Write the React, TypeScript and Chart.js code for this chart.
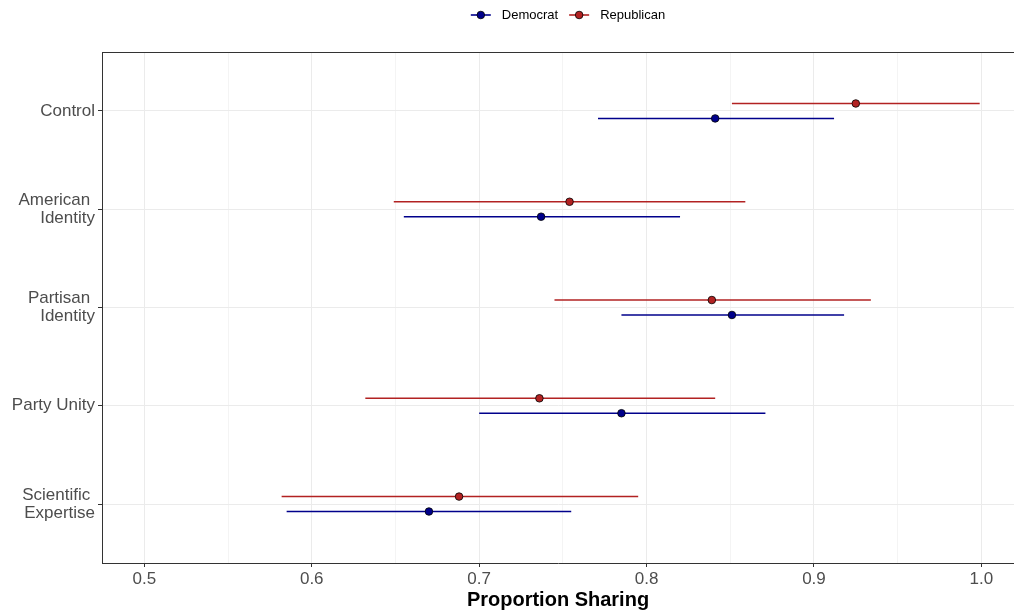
import React, { useEffect, useRef } from 'react';
import { Chart, registerables } from 'chart.js';

Chart.register(...registerables);

// ---- Data ----
const categories = ['Control', 'American Identity', 'Partisan Identity', 'Party Unity', 'Scientific Expertise'];
const yTickLabels = [['Control'], ['American ', 'Identity'], ['Partisan ', 'Identity'], ['Party Unity'], ['Scientific ', 'Expertise']];

const demEst = [0.841, 0.737, 0.851, 0.785, 0.670];
const demLo = [0.771, 0.655, 0.785, 0.700, 0.585];
const demHi = [0.912, 0.820, 0.918, 0.871, 0.755];

const repEst = [0.925, 0.754, 0.839, 0.736, 0.688];
const repLo = [0.851, 0.649, 0.745, 0.632, 0.582];
const repHi = [0.999, 0.859, 0.934, 0.841, 0.795];

const xMajorTicks = [0.5, 0.6, 0.7, 0.8, 0.9, 1.0];
const xMinorTicks = [0.55, 0.65, 0.75, 0.85, 0.95];
const seriesNames = ['Democrat', 'Republican'];
const xTitle = 'Proportion Sharing';

const DEM = '#00008B';
const REP = '#B22222';
const FONT = "'Liberation Sans', Arial, Helvetica, sans-serif";
const DODGE = 0.076;

const catY = (i: number) => categories.length - i;
const isMajor = (v: number) => xMajorTicks.some((m) => Math.abs(m - v) < 1e-9);

function buildDatasets() {
  const ds: any[] = [];
  const series = [
    { name: seriesNames[1], est: repEst, lo: repLo, hi: repHi, color: REP, off: DODGE },
    { name: seriesNames[0], est: demEst, lo: demLo, hi: demHi, color: DEM, off: -DODGE },
  ];
  series.forEach((s) => {
    ds.push({
      type: 'scatter',
      label: s.name,
      data: s.est.map((v, i) => ({ x: v, y: catY(i) + s.off })),
      backgroundColor: s.color,
      borderColor: '#000',
      borderWidth: 0.8,
      pointRadius: 3.8,
      pointHoverRadius: 3.8,
      order: 0,
    });
    s.lo.forEach((lo, i) => {
      ds.push({
        type: 'line',
        label: s.name + ' CI',
        data: [
          { x: lo, y: catY(i) + s.off },
          { x: s.hi[i], y: catY(i) + s.off },
        ],
        borderColor: s.color,
        borderWidth: 1.6,
        pointRadius: 0,
        pointHoverRadius: 0,
        fill: false,
        order: 1,
      });
    });
  });
  return ds;
}

const legendItems = [
  { label: seriesNames[0], color: DEM },
  { label: seriesNames[1], color: REP },
];

const panelBorderPlugin = {
  id: 'panelBorder',
  afterDraw(chart: any) {
    const { ctx, chartArea } = chart;
    ctx.save();
    ctx.strokeStyle = '#333333';
    ctx.lineWidth = 1;
    ctx.beginPath();
    ctx.moveTo(chartArea.left, Math.round(chartArea.top) + 0.5);
    ctx.lineTo(chartArea.right, Math.round(chartArea.top) + 0.5);
    ctx.stroke();
    ctx.restore();
  },
};

const customLegendPlugin = {
  id: 'customLegend',
  afterDraw(chart: any) {
    const ctx = chart.ctx;
    ctx.save();
    ctx.font = `13px ${FONT}`;
    const symW = 20;
    const gapText = 11;
    const gapItem = 11;
    const widths = legendItems.map((it) => symW + gapText + ctx.measureText(it.label).width);
    const total = widths.reduce((a, b) => a + b, 0) + gapItem * (legendItems.length - 1);
    const centerX = (chart.chartArea.left + chart.chartArea.right) / 2 + 10;
    let x = centerX - total / 2;
    const y = 15;
    legendItems.forEach((it, i) => {
      ctx.strokeStyle = it.color;
      ctx.lineWidth = 1.6;
      ctx.beginPath();
      ctx.moveTo(x, y);
      ctx.lineTo(x + symW, y);
      ctx.stroke();
      ctx.beginPath();
      ctx.arc(x + symW / 2, y, 3.8, 0, Math.PI * 2);
      ctx.fillStyle = it.color;
      ctx.fill();
      ctx.lineWidth = 0.8;
      ctx.strokeStyle = '#000';
      ctx.stroke();
      ctx.fillStyle = '#000';
      ctx.textBaseline = 'middle';
      ctx.textAlign = 'left';
      ctx.fillText(it.label, x + symW + gapText, y);
      x += widths[i] + gapItem;
    });
    ctx.restore();
  },
};

export default function App() {
  const canvasRef = useRef<HTMLCanvasElement | null>(null);

  useEffect(() => {
    if (!canvasRef.current) return;
    Chart.defaults.font.family = FONT;
    const chart = new Chart(canvasRef.current, {
      type: 'scatter',
      data: { datasets: buildDatasets() },
      options: {
        responsive: false,
        animation: false,
        devicePixelRatio: 1,
        layout: { autoPadding: false, padding: { top: 52, left: 0, right: 0, bottom: 0 } },
        plugins: {
          legend: { display: false },
          tooltip: { enabled: false },
        },
        scales: {
          x: {
            type: 'linear',
            min: 0.4747,
            max: 1.0195,
            afterBuildTicks: (s: any) => {
              s.ticks = [...xMajorTicks, ...xMinorTicks].sort((a, b) => a - b).map((v) => ({ value: v }));
            },
            afterFit: (s: any) => {
              s.height = 51;
              s.paddingLeft = 0;
              s.paddingRight = 0;
            },
            ticks: {
              autoSkip: false,
              maxRotation: 0,
              color: '#4d4d4d',
              font: { size: 17 },
              padding: 2,
              callback: (v: any) => (isMajor(Number(v)) ? Number(v).toFixed(1) : ''),
            },
            grid: {
              color: (c: any) => (c.tick && !isMajor(c.tick.value) ? '#f4f4f4' : '#ebebeb'),
              lineWidth: 1,
              tickLength: 4,
              tickWidth: 1,
              tickColor: (c: any) => (c.tick && isMajor(c.tick.value) ? '#333333' : 'rgba(0,0,0,0)'),
            },
            border: { display: true, color: '#333333', width: 1 },
            title: {
              display: true,
              text: xTitle,
              color: '#000',
              font: { size: 20, weight: 'bold' },
              padding: { top: 0, bottom: 2 },
            },
          },
          y: {
            type: 'linear',
            min: 0.4,
            max: 5.6,
            afterBuildTicks: (s: any) => {
              s.ticks = categories.map((_, i) => ({ value: catY(i) })).sort((a, b) => a.value - b.value);
            },
            afterFit: (s: any) => {
              s.width = 102;
              s.paddingTop = 0;
              s.paddingBottom = 0;
            },
            ticks: {
              autoSkip: false,
              color: '#4d4d4d',
              font: { size: 17, lineHeight: 1.05 },
              padding: 3,
              callback: (v: any) => yTickLabels[categories.length - Number(v)] as any,
            },
            grid: {
              color: '#ebebeb',
              lineWidth: 1,
              tickLength: 4,
              tickWidth: 1,
              tickColor: '#333333',
            },
            border: { display: true, color: '#333333', width: 1 },
          },
        },
      } as any,
      plugins: [panelBorderPlugin, customLegendPlugin],
    });
    return () => chart.destroy();
  }, []);

  return (
    <div style={{ position: 'fixed', left: 0, top: 0, width: 1014, height: 614, background: '#fff' }}>
      <canvas ref={canvasRef} width={1014} height={614} style={{ width: 1014, height: 614, display: 'block' }} />
    </div>
  );
}
